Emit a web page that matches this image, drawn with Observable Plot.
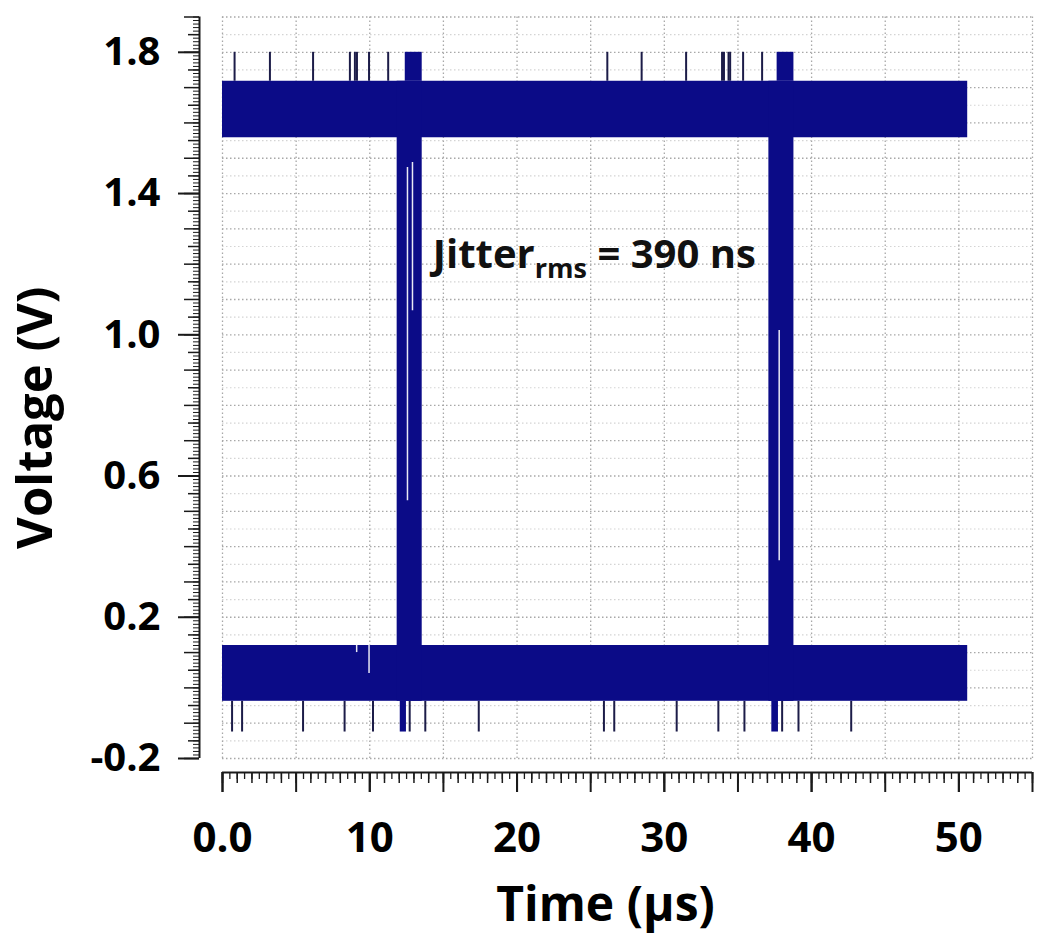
<!DOCTYPE html>
<html><head><meta charset="utf-8">
<script src="https://cdn.jsdelivr.net/npm/d3@7"></script>
<script src="https://cdn.jsdelivr.net/npm/@observablehq/plot@0.6"></script>
<style>
html,body{margin:0;padding:0;background:#fff;}
#chart svg{display:block;}
</style></head><body><div id="chart"></div>
<script>
// ---- signal levels (V) ----
const spikeLow = -0.125, lowBottom = -0.038, lowTop = 0.120;
const highBottom = 1.558, highTop = 1.718, spikeHigh = 1.800;

// ---- logic-level bands (time in µs) ----
const bandStart = [0, 0];
const bandEnd = [50.6, 50.6];
const bandBottom = [lowBottom, highBottom];
const bandTop = [lowTop, highTop];

// ---- transition columns ----
const edgeStart = [11.86, 37.10];
const edgeEnd = [13.56, 38.80];
const overshootStart = [12.41, 37.66];
const overshootEnd = [13.56, 38.80];
const undershootStart = [12.07, 37.30];
const undershootEnd = [12.49, 37.75];

// ---- glitch spikes (µs) ----
const topSpikes = [0.82, 3.22, 6.15, 8.65, 8.99, 9.13, 9.95, 11.25, 26.13, 28.46, 31.48, 33.92, 34.05, 34.36, 34.47, 35.35, 36.64];
const bottomSpikes = [0.65, 1.33, 5.47, 8.29, 10.22, 12.71, 13.77, 17.40, 25.90, 26.60, 30.84, 33.67, 35.44, 38.00, 39.11, 42.69];

// ---- light gaps inside the trace ----
const gapTime = [12.56, 12.90, 37.80, 9.11, 9.95];
const gapFrom = [0.53, 1.068, 0.36, 0.100, 0.041];
const gapTo = [1.474, 1.488, 1.012, 0.120, 0.120];

// ---- axes ----
const xDomain = [0, 55];
const yDomain = [-0.2, 1.9];
const xTickValues = [0, 10, 20, 30, 40, 50];
const xTickLabels = ["0.0", "10", "20", "30", "40", "50"];
const yTickValues = [-0.2, 0.2, 0.6, 1.0, 1.4, 1.8];
const yTickLabels = ["-0.2", "0.2", "0.6", "1.0", "1.4", "1.8"];
const xLabel = "Time (µs)";
const yLabel = "Voltage (V)";
const annotationMain = "Jitter", annotationSub = "rms", annotationRest = " = 390 ns";
const annotationAt = {t: 14.28, v: 1.19};

// tick/grid sets
const xMajor = d3.range(0, 55.001, 5);
const xMid = d3.range(0, 55.001, 1);
const xMinor = d3.range(0, 55.001, 0.5);
const yMajor = d3.range(-0.2, 1.9001, 0.1).map(v => +v.toFixed(2));
const yHalf = d3.range(-0.15, 1.9001, 0.1).map(v => +v.toFixed(2));
const yMinor = d3.range(-0.2, 1.9001, 0.01).map(v => +v.toFixed(3));

const bands = bandStart.map((s, i) => ({t1: s, t2: bandEnd[i], v1: bandBottom[i], v2: bandTop[i]}));
const edges = edgeStart.map((s, i) => ({t1: s, t2: edgeEnd[i], v1: lowBottom, v2: highTop}));
const overs = overshootStart.map((s, i) => ({t1: s, t2: overshootEnd[i], v1: highTop, v2: spikeHigh}));
const unders = undershootStart.map((s, i) => ({t1: s, t2: undershootEnd[i], v1: spikeLow, v2: lowBottom}));
const gaps = gapTime.map((t, i) => ({t, v1: gapFrom[i], v2: gapTo[i]}));

const blue = "#0b0b87";
const ink = "#1a1a1a";
const yOff = -23, xOff = 14;

const chart = Plot.plot({
  width: 1050, height: 943,
  marginTop: 16.5, marginLeft: 222, marginRight: 18, marginBottom: 185,
  x: {domain: xDomain, axis: null},
  y: {domain: yDomain, axis: null},
  style: {fontFamily: "'Open Sans', sans-serif", fontWeight: "bold", color: "#000", background: "#fff"},
  marks: [
    // grid
    Plot.ruleY(yHalf, {stroke: "#d4d4d4", strokeWidth: 1.2, strokeDasharray: "1.5,2.5"}),
    Plot.ruleY(yMajor, {stroke: "#a8a8a8", strokeWidth: 1.3, strokeDasharray: "1.5,2.5"}),
    Plot.ruleX(xMajor, {stroke: "#a8a8a8", strokeWidth: 1.3, strokeDasharray: "1.5,2.5"}),
    // trace
    Plot.ruleX(topSpikes, {x: d => d, y1: highTop, y2: spikeHigh, stroke: "#1c1c48", strokeWidth: 2}),
    Plot.ruleX(bottomSpikes, {x: d => d, y1: spikeLow, y2: lowBottom, stroke: "#1c1c48", strokeWidth: 2}),
    Plot.rect(bands, {x1: "t1", x2: "t2", y1: "v1", y2: "v2", fill: blue}),
    Plot.rect(edges, {x1: "t1", x2: "t2", y1: "v1", y2: "v2", fill: blue}),
    Plot.rect(overs, {x1: "t1", x2: "t2", y1: "v1", y2: "v2", fill: blue}),
    Plot.rect(unders, {x1: "t1", x2: "t2", y1: "v1", y2: "v2", fill: blue}),
    Plot.ruleX(gaps, {x: "t", y1: "v1", y2: "v2", stroke: "#e8e8f4", strokeWidth: 1.5}),
    // y ruler
    Plot.ruleX([xDomain[0]], {dx: yOff, stroke: ink, strokeWidth: 2}),
    Plot.axisY(yMinor, {anchor: "left", dx: yOff, tickSize: 6, tickFormat: () => "", label: null, stroke: ink, strokeWidth: 1}),
    Plot.axisY(yHalf, {anchor: "left", dx: yOff, tickSize: 11, tickFormat: () => "", label: null, stroke: ink, strokeWidth: 1.5}),
    Plot.axisY(yMajor, {anchor: "left", dx: yOff, tickSize: 15, tickFormat: () => "", label: null, stroke: ink, strokeWidth: 1.5}),
    Plot.axisY(yTickValues, {anchor: "left", dx: yOff, tickSize: 21, tickPadding: 18, tickFormat: (d, i) => yTickLabels[i],
      label: null, stroke: ink, strokeWidth: 2, fontSize: 40, fontWeight: "bold", fill: "#000"}),
    // x ruler
    Plot.ruleY([yDomain[0]], {dy: xOff, stroke: ink, strokeWidth: 2}),
    Plot.axisX(xMinor, {anchor: "bottom", dy: xOff, tickSize: 7, tickFormat: () => "", label: null, stroke: ink, strokeWidth: 1.3}),
    Plot.axisX(xMid, {anchor: "bottom", dy: xOff, tickSize: 11, tickFormat: () => "", label: null, stroke: ink, strokeWidth: 1.5}),
    Plot.axisX(xMajor, {anchor: "bottom", dy: xOff, tickSize: 20, tickFormat: () => "", label: null, stroke: ink, strokeWidth: 2}),
    Plot.axisX(xTickValues, {anchor: "bottom", dy: xOff, tickSize: 20, tickPadding: 30, tickFormat: (d, i) => xTickLabels[i],
      label: null, stroke: ink, strokeWidth: 2, fontSize: 42, fontWeight: "bold", fill: "#000"}),
    // axis titles
    Plot.text([xLabel], {frameAnchor: "bottom", text: d => d, dx: -22, dy: 147, fontSize: 48, fontWeight: "bold", fill: "#000", lineAnchor: "middle"}),
    Plot.text([yLabel], {frameAnchor: "left", text: d => d, rotate: -90, textAnchor: "middle", dx: -186, dy: 30, fontSize: 49, fontWeight: "bold", fill: "#000", lineAnchor: "middle"}),
    // annotation
    Plot.text([annotationMain], {x: () => annotationAt.t, y: () => annotationAt.v, text: d => d, textAnchor: "start", lineAnchor: "bottom", fontSize: 40, fontWeight: "bold", fill: "#111"})
  ]
});

// subscript for the annotation
for (const t of chart.querySelectorAll("text")) {
  if (t.textContent === annotationMain) {
    const ns = "http://www.w3.org/2000/svg";
    const sub = document.createElementNS(ns, "tspan");
    sub.setAttribute("font-size", "27");
    sub.setAttribute("dy", "10");
    sub.textContent = annotationSub;
    const rest = document.createElementNS(ns, "tspan");
    rest.setAttribute("dy", "-10");
    rest.textContent = annotationRest;
    t.appendChild(sub); t.appendChild(rest);
  }
}
document.getElementById("chart").appendChild(chart);
</script></body></html>
